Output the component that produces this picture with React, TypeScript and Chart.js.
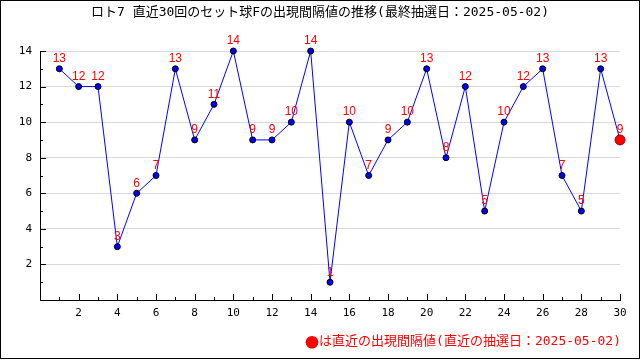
import React, { useEffect, useRef } from "react";
import { Chart, registerables } from "chart.js";

Chart.register(...registerables);

const draws: number[] = Array.from({ length: 30 }, (_, i) => i + 1);
const intervals: number[] = [13, 12, 12, 3, 6, 7, 13, 9, 11, 14, 9, 9, 10, 14, 1, 10, 7, 9, 10, 13, 8, 12, 5, 10, 12, 13, 7, 5, 13, 9];
const titleText = "ロト7 直近30回のセット球Fの出現間隔値の推移(最終抽選日：2025-05-02)";
const noteMark = "●";
const noteText = "は直近の出現間隔値(直近の抽選日：2025-05-02)";

const MONO = "'DejaVu Sans Mono', 'Noto Sans CJK JP', monospace";

export default function App() {
  const ref = useRef<HTMLCanvasElement | null>(null);
  useEffect(() => {
    document.body.style.margin = "0";
    const canvas = ref.current!;
    const last = intervals.length - 1;
    const overlay = {
      id: "overlay",
      afterDraw(chart: any) {
        const ctx = chart.ctx as CanvasRenderingContext2D;
        const xs = chart.scales.x;
        const ys = chart.scales.y;
        const area = chart.chartArea;
        ctx.save();
        ctx.strokeStyle = "#000";
        ctx.lineWidth = 1;
        ctx.beginPath();
        for (let v = 1; v <= 30; v++) {
          const px = Math.round(xs.getPixelForValue(v)) + 0.5;
          const len = v % 2 === 0 ? 6 : 3;
          ctx.moveTo(px, area.bottom);
          ctx.lineTo(px, area.bottom - len);
        }
        for (let v = 1; v <= 14; v++) {
          const py = Math.round(ys.getPixelForValue(v)) + 0.5;
          const len = v % 2 === 0 ? 6 : 3;
          ctx.moveTo(area.left, py);
          ctx.lineTo(area.left + len, py);
        }
        ctx.stroke();
        const meta = chart.getDatasetMeta(0);
        ctx.fillStyle = "#ff0000";
        ctx.font = "12px 'Liberation Sans', sans-serif";
        ctx.textAlign = "center";
        ctx.textBaseline = "middle";
        meta.data.forEach((pt: any, i: number) => {
          ctx.fillText(String(intervals[i]), pt.x, pt.y - 10);
        });
        ctx.fillStyle = "#000";
        ctx.font = "13px " + MONO;
        ctx.textAlign = "center";
        ctx.fillText(titleText, 320, 13);
        // note
        ctx.fillStyle = "#ff0000";
        ctx.textAlign = "right";
        ctx.font = "13px " + MONO;
        const w = ctx.measureText(noteText).width;
        ctx.fillText(noteText, 621, 342);
        ctx.font = "14px 'Noto Sans CJK JP'";
        ctx.fillText(noteMark, 621 - w, 342);
        ctx.strokeStyle = "#000";
        ctx.strokeRect(0.5, 0.5, 639, 358);
        ctx.restore();
      },
    };
    const chart = new Chart(canvas, {
      type: "line",
      data: {
        datasets: [
          {
            data: draws.map((d, i) => ({ x: d, y: intervals[i] })),
            borderColor: "#0000ff",
            borderWidth: 1,
            tension: 0,
            clip: false,
            pointRadius: intervals.map((_, i) => (i === last ? 5 : 3)),
            pointBackgroundColor: intervals.map((_, i) => (i === last ? "#ff0000" : "#0000ff")),
            pointBorderColor: intervals.map((_, i) => (i === last ? "#990000" : "#000000")),
            pointBorderWidth: 1,
          },
        ],
      },
      options: {
        responsive: false,
        animation: false,
        layout: { padding: { top: 51, right: 20, left: 0, bottom: 0 } },
        plugins: { legend: { display: false }, title: { display: false }, tooltip: { enabled: false } },
        scales: {
          x: {
            type: "linear",
            min: 0,
            max: 30,
            afterFit: (s: any) => { s.height = 60; },
            grid: { display: false, drawTicks: false },
            border: { display: true, color: "#000", width: 1 },
            ticks: {
              stepSize: 2,
              padding: 7,
              color: "#000",
              maxRotation: 0,
              autoSkip: false,
              font: { family: MONO, size: 11 },
              callback: (v: any) => (v === 0 ? "" : String(v)),
            },
          },
          y: {
            min: 0,
            max: 14,
            afterFit: (s: any) => { s.width = 40; },
            grid: {
              drawTicks: false,
              color: (c: any) => (c.tick && c.tick.value === 0 ? "rgba(0,0,0,0)" : "#d8d8d8"),
            },
            border: { display: true, color: "#000", width: 1 },
            ticks: {
              stepSize: 2,
              padding: 8,
              color: "#000",
              font: { family: MONO, size: 11 },
              callback: (v: any) => (v === 0 ? "" : String(v)),
            },
          },
        },
      },
      plugins: [overlay],
    } as any);
    return () => chart.destroy();
  }, []);
  return <canvas ref={ref} width={640} height={360} style={{ display: "block" }} />;
}
